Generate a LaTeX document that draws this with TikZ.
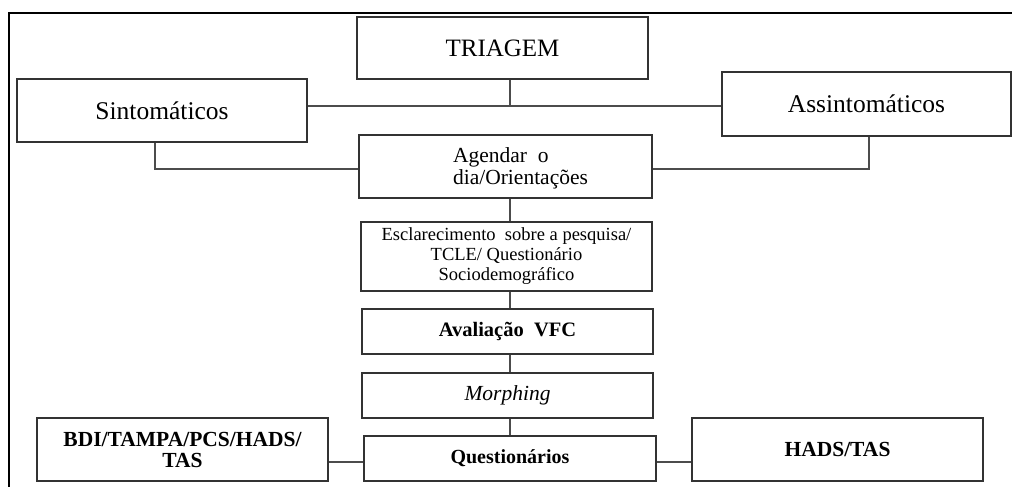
\documentclass[tikz,border=0pt]{standalone}
\usepackage{fontspec}
\setmainfont{Liberation Serif}
\usepackage{tikz}
\usetikzlibrary{positioning}
\usetikzlibrary{calc}
\tikzstyle{caixa}=[draw=black!80,line width=1.2pt,rectangle,fill=white,inner sep=0pt,minimum width=291pt]
\tikzstyle{liga}=[draw=black!70,line width=1.6pt]
\tikzstyle{moldura}=[draw=black,line width=2pt]

\begin{document}
\begin{tikzpicture}[x=1pt,y=-1pt]
\useasboundingbox (0,0) rectangle (1012,487);
\draw[moldura] (9,487) -- (9,13) -- (1012,13);
% topo
\node [caixa,minimum height=62pt,font=\fontsize{25}{29}\selectfont] (triagem) at (502.5,48) {TRIAGEM};
\node [caixa,minimum width=290pt,minimum height=63pt,font=\fontsize{25.5}{29}\selectfont] (sinto) at (162,110.5) {Sintomáticos};
\node [caixa,minimum width=289pt,minimum height=64pt,font=\fontsize{25.5}{29}\selectfont] (assinto) at (866.5,104) {Assintomáticos};
\coordinate (tronco) at (510,106);
% coluna central
\node [caixa,minimum width=293pt,minimum height=63pt] (agendar) at (505.5,166.5) {};
\node [align=left,inner sep=0pt,font=\fontsize{21.5}{22}\selectfont] (agendartxt) at (520.5,168) {Agendar~~o\\dia/Orientações};
\node [caixa,minimum height=69pt,align=center,font=\fontsize{18.5}{20}\selectfont] (escl) at (506.5,256.5) {Esclarecimento~~sobre a pesquisa/\\TCLE/ Questionário\\Sociodemográfico};
\node [caixa,minimum height=45pt,font=\fontsize{20.5}{24}\bfseries\selectfont] (aval) at (507.5,331.5) {Avaliação~~VFC};
\node [caixa,minimum height=45pt,font=\fontsize{21.5}{25}\itshape\selectfont] (morph) at (507.5,395.5) {Morphing};
\node [caixa,minimum width=292pt,minimum height=45pt,font=\fontsize{20}{24}\bfseries\selectfont] (quest) at (510,458.5) {Questionários};
% base
\node [caixa,minimum height=63pt,align=center,font=\fontsize{21.5}{21}\bfseries\selectfont] (bdi) at (182.5,449.5) {BDI/TAMPA/PCS/HADS/\\TAS};
\node [caixa,minimum height=63pt,font=\fontsize{21.5}{25}\bfseries\selectfont] (hads) at (837.5,449.5) {HADS/TAS};
% ligacoes
\draw[liga] (sinto.east |- tronco) -- (assinto.west |- tronco);
\draw[liga] (triagem.south -| tronco) -- (tronco);
\draw[liga] ([xshift=-7pt]sinto.south) |- ([yshift=-2.5pt]agendar.west);
\draw[liga] ([xshift=2.5pt]assinto.south) |- ([yshift=-2.5pt]agendar.east);
\draw[liga] (agendar.south -| tronco) -- (escl.north -| tronco);
\draw[liga] (escl.south -| tronco) -- (aval.north -| tronco);
\draw[liga] (aval.south -| tronco) -- (morph.north -| tronco);
\draw[liga] (morph.south -| tronco) -- (quest.north -| tronco);
\draw[liga] ([yshift=-3.5pt]quest.west) -- ([yshift=-3.5pt]quest.west -| bdi.east);
\draw[liga] ([yshift=-3.5pt]quest.east) -- ([yshift=-3.5pt]quest.east -| hads.west);
\end{tikzpicture}
\end{document}
